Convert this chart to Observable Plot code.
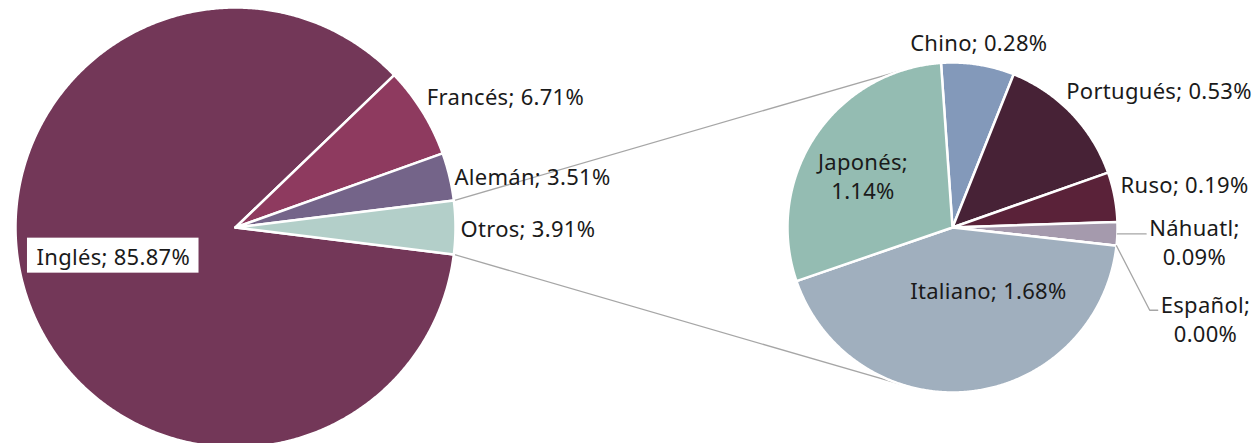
<!DOCTYPE html>
<html><head><meta charset="utf-8">
<script src="https://cdn.jsdelivr.net/npm/d3@7"></script>
<script src="https://cdn.jsdelivr.net/npm/@observablehq/plot@0.6"></script>
<style>html,body{margin:0;padding:0;background:#fff}#chart svg{display:block}#chart svg text{letter-spacing:0.3px}</style>
</head><body><div id="chart"></div>
<script>
// ---------- data ----------
const mainCategories = ["Inglés", "Francés", "Alemán", "Otros"];
const mainValues = [85.87, 6.71, 3.51, 3.91];
const mainColors = ["#733758", "#8E3A5F", "#746489", "#B3CFC9"];

const subCategories = ["Chino", "Portugués", "Ruso", "Náhuatl", "Español", "Italiano", "Japonés"];
const subValues = [0.28, 0.53, 0.19, 0.09, 0.00, 1.68, 1.14];
const subColors = ["#8399BA", "#472236", "#5A2239", "#A59AAD", "#A59AAD", "#A0AFBE", "#94BCB2"];

const wrappedLabels = ["Japonés", "Náhuatl", "Español"];

// ---------- layout ----------
const W = 1259, H = 443;
const FONT = "Noto Sans", FS = 22, LH = 29, LS = 0.3;
const TEXT = "#1a1a1a", LINE = "#a6a6a6";
const mainPie = {cx: 235, cy: 227, r: 220};
const subPie = {cx: 952, cy: 227, r: 165};
const subRotationDeg = -4;
const rad = Math.PI / 180;
const labelLayout = {
  "Inglés":    {mode: "in", k: 0.6, dx: 3, dy: -13.5, box: true},
  "Francés":   {mode: "out", dx: 0, dy: -13},
  "Alemán":    {mode: "out", dx: 0, dy: 0},
  "Otros":     {mode: "out", dx: 0, dy: 0},
  "Chino":     {mode: "out", dx: 0, dy: -18, anchor: "middle"},
  "Portugués": {mode: "out", dx: -9, dy: -20},
  "Ruso":      {mode: "out", dx: 1, dy: -12},
  "Náhuatl":   {mode: "leader", dx: 77, dy: 7.5, flat: true},
  "Español":   {mode: "leader", dx: 89, dy: 72.5, elbowDy: -8},
  "Italiano":  {mode: "in", k: 0.6, dx: 25, dy: -36},
  "Japonés":   {mode: "in", k: 0.6, dx: -7, dy: 2.5}
};

const polar = (p, a, rr) => [p.cx + rr * Math.sin(a), p.cy - rr * Math.cos(a)];
const ctx = document.createElement("canvas").getContext("2d");
ctx.font = `${FS}px "${FONT}"`;
const textWidth = s => d3.max(s.split("\n"), l => ctx.measureText(l).width + LS * l.length);

// main pie: last slice (Otros) centred on the right
const mainTotal = d3.sum(mainValues);
const lastFrac = mainValues[mainValues.length - 1] / mainTotal;
const mainStart = Math.PI / 2 - (1 - lastFrac / 2) * 2 * Math.PI;
const mainArcs = d3.pie().sort(null).startAngle(mainStart).endAngle(mainStart + 2 * Math.PI)(mainValues);
const subStart = subRotationDeg * rad;
const subArcs = d3.pie().sort(null).startAngle(subStart).endAngle(subStart + 2 * Math.PI)(subValues);

function slicePoints(p, arcs, names, colors) {
  const pts = [];
  arcs.forEach((a, i) => {
    const key = names[i], color = colors[i];
    const n = Math.max(1, Math.ceil((a.endAngle - a.startAngle) / (0.4 * rad)));
    pts.push({key, color, x: p.cx, y: p.cy});
    for (let k = 0; k <= n; k++) {
      const t = a.startAngle + (a.endAngle - a.startAngle) * k / n;
      const [x, y] = polar(p, t, p.r);
      pts.push({key, color, x, y});
    }
    pts.push({key, color, x: p.cx, y: p.cy});
  });
  return pts;
}
const slices = [
  ...slicePoints(mainPie, mainArcs, mainCategories, mainColors),
  ...slicePoints(subPie, subArcs, subCategories, subColors)
];

// connectors from "Otros" corners, tangent to the second pie
const otros = mainArcs[mainArcs.length - 1];
function tangent(P, C, sign) {
  const dx = P[0] - C.cx, dy = P[1] - C.cy, d = Math.hypot(dx, dy);
  const ang = Math.atan2(dy, dx) + sign * Math.acos(C.r / d);
  return [C.cx + C.r * Math.cos(ang), C.cy + C.r * Math.sin(ang)];
}
const pTop = polar(mainPie, otros.startAngle, mainPie.r);
const pBot = polar(mainPie, otros.endAngle, mainPie.r);
const tTop = tangent(pTop, subPie, 1), tBot = tangent(pBot, subPie, -1);
const connectors = [
  {x1: pTop[0], y1: pTop[1], x2: tTop[0], y2: tTop[1]},
  {x1: pBot[0], y1: pBot[1], x2: tBot[0], y2: tBot[1]}
];

// labels
const labels = [], leaders = [], boxes = [];
function addLabels(p, arcs, names, values) {
  arcs.forEach((a, i) => {
    const name = names[i], L = labelLayout[name];
    const sep = wrappedLabels.includes(name) ? ";\n" : "; ";
    const text = `${name}${sep}${values[i].toFixed(2)}%`;
    const mid = (a.startAngle + a.endAngle) / 2;
    let x, y, anchor = L.anchor || "start";
    if (L.mode === "in") {
      [x, y] = polar(p, mid, p.r * L.k); anchor = "middle";
    } else if (L.mode === "out") {
      [x, y] = polar(p, mid, p.r + 5);
    } else {
      const s = polar(p, mid, p.r);
      x = s[0]; y = s[1]; anchor = "middle";
      const lx = x + L.dx, ly = y + L.dy;
      const left = lx - textWidth(text) / 2 - 3;
      const ey = L.flat ? y : ly + L.elbowDy;
      leaders.push({key: name, x: s[0], y: s[1]});
      if (!L.flat) leaders.push({key: name, x: left - 8, y: ey});
      leaders.push({key: name, x: left, y: ey});
    }
    x += L.dx; y += L.dy;
    labels.push({text, x, y, anchor});
    if (L.box) {
      const w = textWidth(text) + 18;
      boxes.push({x1: x - w / 2, x2: x + w / 2, y1: y - 17.5, y2: y + 17.5});
    }
  });
}
addLabels(mainPie, mainArcs, mainCategories, mainValues);
addLabels(subPie, subArcs, subCategories, subValues);

const chart = Plot.plot({
  width: W, height: H,
  margin: 0,
  x: {domain: [0, W], range: [0, W], axis: null},
  y: {domain: [0, H], range: [0, H], axis: null},
  color: {type: "identity"},
  style: {fontFamily: FONT, background: "#fff"},
  marks: [
    Plot.link(connectors, {x1: "x1", y1: "y1", x2: "x2", y2: "y2", stroke: LINE, strokeWidth: 1.3}),
    Plot.line(slices, {x: "x", y: "y", z: "key", fill: "color", stroke: "#fff", strokeWidth: 2.5, strokeLinejoin: "round", curve: "linear"}),
    Plot.line(leaders, {x: "x", y: "y", z: "key", stroke: LINE, strokeWidth: 1.3}),
    Plot.rect(boxes, {x1: "x1", x2: "x2", y1: "y1", y2: "y2", fill: "#fff"}),
    Plot.text(labels.filter(d => d.anchor === "start"), {x: "x", y: "y", text: "text", textAnchor: "start", lineAnchor: "middle", lineHeight: LH / FS, fontSize: FS, fill: TEXT}),
    Plot.text(labels.filter(d => d.anchor === "middle"), {x: "x", y: "y", text: "text", textAnchor: "middle", lineAnchor: "middle", lineHeight: LH / FS, fontSize: FS, fill: TEXT})
  ]
});
document.getElementById("chart").appendChild(chart);
</script>
</body></html>
